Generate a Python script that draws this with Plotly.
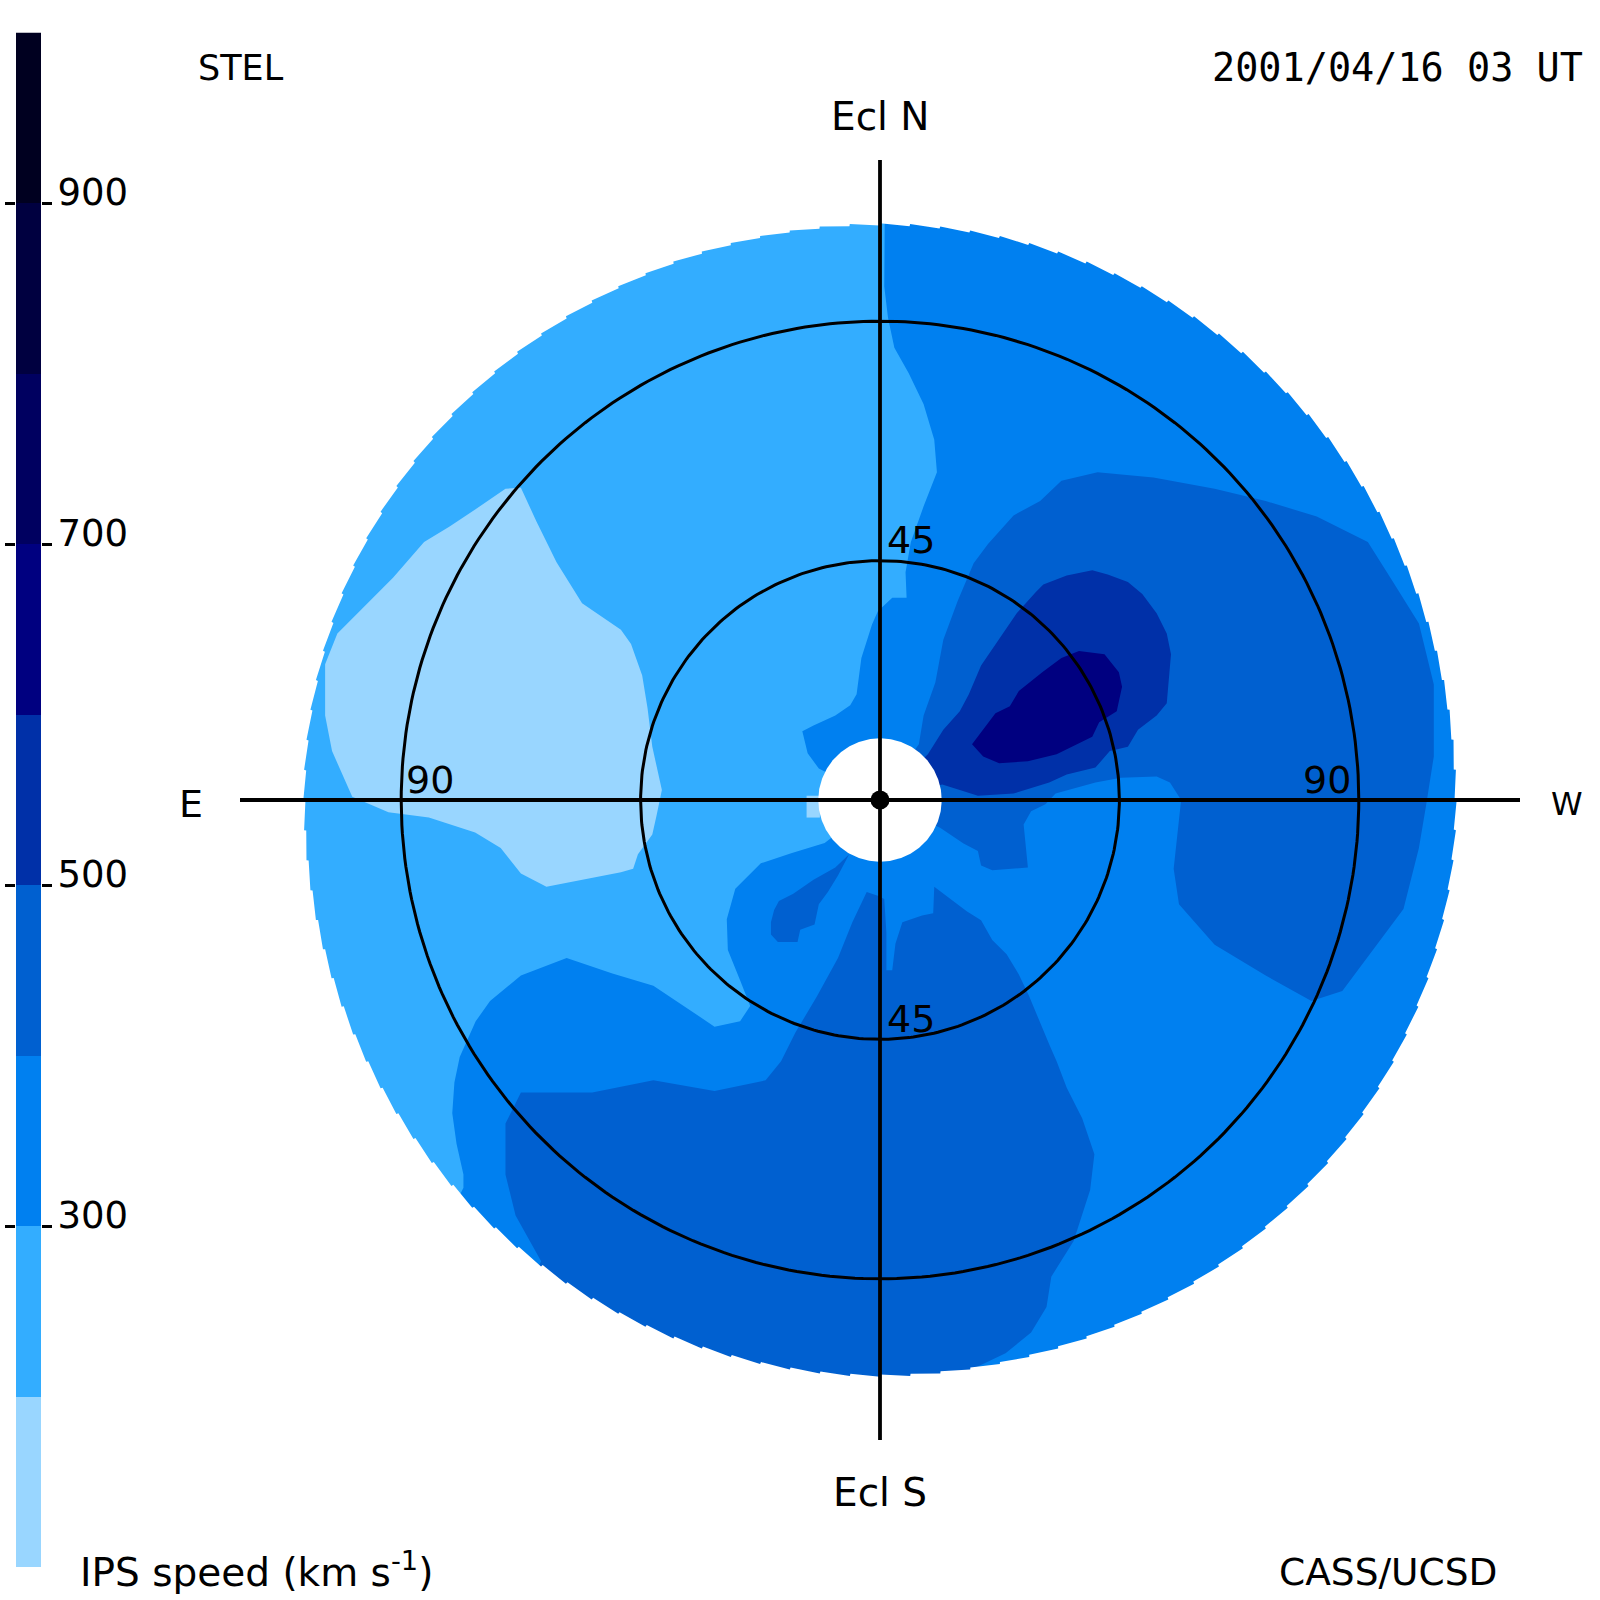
import numpy as np
import plotly.graph_objects as go

# Speed levels (km/s) and colours of the scale
level_edges = [100, 200, 300, 400, 500, 600, 700, 800, 900, 1000]
level_values = [150, 250, 350, 450, 550, 650, 750, 850, 950]
level_colors = ["#99d6ff", "#33adff", "#0080f0", "#0060d0", "#0030a8",
                "#000080", "#000060", "#000040", "#000020"]
tick_values = [300, 500, 700, 900]
ring_elongations = [45, 90]
disc_radius = 108.2
hole_radius = 11.6
axis_reach = 120.3

# Contour regions in sky-map degrees (x toward W, y toward ecliptic N)
l300_x = [1, 130, 130, -70, -80.9, -78.3, -78.3, -79.6, -80.4, -80.0, -79.0, -76.0, -73.3, -67.5, -58.9, -50.3, -42.6, -36.8, -31.1, -26.3, -24.4, -26.3, -28.6, -28.8, -27.2, -22.4, -16.7, -10.4, 0, -11.5, -13.6, -14.6, -12.5, -8.4, -5.6, -4.4, -3.5, -1.5, -0.4, 0.8, 2.3, 5.0, 4.8, 5.8, 8.2, 10.7, 10.2, 8.2, 5.4, 2.7, 1.5, 0.8]
l300_y = [125, 125, -125, -125, -78.1, -72.9, -70.4, -64.6, -58.9, -53.1, -48.3, -41.6, -37.8, -33.0, -29.7, -32.6, -34.9, -38.7, -42.6, -41.6, -38.7, -33.9, -28.2, -22.4, -16.7, -11.9, -10.0, -8.1, 0, 5.9, 8.8, 12.9, 14.0, 15.9, 17.8, 19.9, 26.7, 33.0, 35.5, 36.6, 38.0, 38.0, 42.8, 48.5, 55.2, 61.6, 67.7, 74.4, 80.2, 85.0, 90.7, 96.5]

l100_x = [-67.5, -64.6, -60.8, -56.0, -48.7, -46.8, -44.7, -43.7, -42.8, -41.8, -41.0, -42.0, -42.8, -45.5, -46.4, -48.7, -55.0, -62.7, -67.5, -71.3, -76.1, -84.8, -92.4, -99.2, -103.0, -104.3, -104.3, -102.0, -98.2, -91.5, -85.7, -80.9, -75.2, -70.4]
l100_y = [58.7, 52.4, 44.7, 37.0, 32.0, 29.3, 23.4, 17.3, 10.0, 5.2, 1.9, -2.9, -6.5, -10.2, -12.9, -13.6, -14.8, -16.3, -13.8, -9.0, -6.1, -3.3, -2.3, 0.6, 9.2, 15.9, 25.5, 31.3, 35.1, 41.8, 48.5, 51.4, 55.2, 58.5]
l100b_x = [-13.8, -11.3, -11.3, -13.8]
l100b_y = [0.8, 0.8, -3.3, -3.3]

l400a_x = [7.3, 8.2, 10.4, 11.9, 14.6, 17.6, 20.3, 25.1, 30.1, 34.1, 40.9, 51.4, 62.9, 72.5, 82.1, 91.7, 96.5, 101.3, 104.1, 104.1, 102.6, 101.3, 98.4, 92.6, 86.9, 81.1, 72.5, 62.9, 56.2, 55.2, 56.6, 54.5, 52.0, 45.3, 40.5, 33.0, 31.1, 28.4, 27.0, 27.8, 21.1, 19.0, 18.4, 15.7, 12.7, 11.3, 0]
l400a_y = [10.5, 15.9, 22.1, 30.1, 37.4, 44.5, 48.1, 53.5, 56.2, 60.0, 61.6, 60.6, 58.5, 56.2, 53.3, 48.5, 40.9, 33.2, 21.7, 8.2, -1.3, -9.0, -20.5, -28.2, -35.9, -37.8, -33.0, -27.2, -19.6, -12.9, 0, 3.3, 4.4, 4.2, 3.3, 1.2, -0.8, -2.1, -4.6, -12.7, -13.2, -12.3, -9.6, -8.2, -6.1, -5.2, 0]

l400b_x = [-0.4, -2.5, -5.2, -7.9, -11.9, -15.9, -18.6, -21.5, -31.1, -42.6, -54.1, -67.5, -70.4, -70.4, -68.5, -63.7, -70, -60, 15, 16.9, 23.6, 28.4, 31.3, 32.2, 36.4, 39.5, 40.3, 38.0, 35.1, 33.2, 32.0, 29.7, 28.0, 26.1, 23.8, 21.1, 19.0, 16.3, 11.9, 10.2, 10.0, 7.9, 4.2, 2.9, 2.3, 1.2, 1.2, 0.8]
l400b_y = [-18.0, -17.3, -23.0, -29.7, -37.0, -43.7, -49.1, -52.7, -54.7, -52.7, -55.0, -55.0, -60.8, -70.4, -78.1, -86.7, -100, -125, -125, -107.2, -104.0, -100.1, -95.3, -89.6, -82.9, -73.3, -66.6, -59.8, -54.1, -49.1, -46.4, -41.0, -36.8, -32.8, -29.0, -26.3, -22.6, -20.9, -17.6, -16.3, -21.3, -21.7, -23.0, -27.0, -32.0, -32.0, -24.9, -18.6]

l400c_x = [-20.5, -19.9, -19.0, -16.3, -12.5, -8.4, -5.8, -7.9, -9.8, -11.5, -12.3, -15.0, -15.5, -19.2, -20.5]
l400c_y = [-23.0, -20.7, -19.0, -17.6, -15.0, -12.7, -10.2, -14.2, -17.3, -19.6, -23.4, -24.4, -26.7, -26.7, -25.3]

l500_x = [9.0, 11.9, 15.0, 16.7, 19.0, 21.7, 25.7, 29.3, 30.7, 35.1, 39.9, 42.8, 46.6, 49.3, 52.0, 53.9, 54.7, 53.9, 52.0, 48.5, 46.6, 43.2, 40.5, 35.1, 31.8, 25.1, 18.4, 15.0, 11.7, 0]
l500_y = [8.6, 13.2, 16.7, 19.9, 25.3, 29.3, 35.1, 39.1, 40.5, 42.2, 43.2, 42.4, 41.0, 38.7, 35.1, 31.3, 27.4, 18.2, 15.9, 13.2, 10.0, 9.2, 6.1, 4.8, 3.3, 1.2, 0.8, 1.9, 2.9, 0]

l600_x = [17.3, 19.9, 21.7, 24.4, 26.1, 30.5, 34.1, 37.4, 42.2, 44.9, 45.5, 44.5, 41.2, 39.9, 35.9, 33.2, 27.8, 22.4, 19.4]
l600_y = [10.5, 14.0, 16.3, 17.6, 20.5, 24.0, 26.7, 28.0, 27.4, 24.0, 21.3, 16.7, 14.6, 11.9, 10.0, 8.6, 7.3, 6.9, 8.2]

PX_PER_DEG = 5.32
CX, CY, W = 880, 800, 1600
C = dict(zip(level_edges[:-1], level_colors))


def circle(r, n=361):
    t = np.radians(np.linspace(0, 360, n))
    return r * np.cos(t), r * np.sin(t)


def poly(x, y, color, name):
    return go.Scatter(x=list(x) + [x[0]], y=list(y) + [y[0]], mode="lines", fill="toself",
                      fillcolor=color, line=dict(width=0), hoverinfo="skip", name=name,
                      showlegend=False, xaxis="x", yaxis="y")


fig = go.Figure()
bx, by = circle(130)
fig.add_trace(poly(bx, by, C[200], "200-300"))
fig.add_trace(poly(l100_x, l100_y, C[100], "100-200"))
fig.add_trace(poly(l100b_x, l100b_y, C[100], "100-200"))
fig.add_trace(poly(l300_x, l300_y, C[300], "300-400"))
fig.add_trace(poly(l400a_x, l400a_y, C[400], "400-500"))
fig.add_trace(poly(l400b_x, l400b_y, C[400], "400-500"))
fig.add_trace(poly(l400c_x, l400c_y, C[400], "400-500"))
fig.add_trace(poly(l500_x, l500_y, C[500], "500-600"))
fig.add_trace(poly(l600_x, l600_y, C[600], "600-700"))

# white surround with small saw-tooth notches every 3 degrees along the disc edge
starts = np.arange(360, 0, -3.0)
theta_deg = np.column_stack([starts, starts - 2.95]).ravel()
edge_r = np.tile([disc_radius + 0.2, disc_radius - 0.2], len(starts))
theta = np.radians(theta_deg)
ex, ey = edge_r * np.cos(theta), edge_r * np.sin(theta)
big = 400
mask_x = [big, big, -big, -big, big, big] + list(ex) + [ex[0]]
mask_y = [0, big, big, -big, -big, 0] + list(ey) + [ey[0]]
fig.add_trace(poly(mask_x, mask_y, "#ffffff", "outside"))
hx, hy = circle(hole_radius)
fig.add_trace(poly(hx, hy, "#ffffff", "hole"))

for r in ring_elongations:
    rx, ry = circle(r)
    fig.add_trace(go.Scatter(x=rx, y=ry, mode="lines", line=dict(color="#000", width=3),
                             hoverinfo="skip", showlegend=False))
fig.add_trace(go.Scatter(x=[-axis_reach, axis_reach], y=[0, 0], mode="lines",
                         line=dict(color="#000", width=3.8), hoverinfo="skip", showlegend=False))
fig.add_trace(go.Scatter(x=[0, 0], y=[-axis_reach, axis_reach], mode="lines",
                         line=dict(color="#000", width=3.8), hoverinfo="skip", showlegend=False))
fig.add_trace(go.Scatter(x=[0], y=[0], mode="markers", marker=dict(color="#000", size=19),
                         hoverinfo="skip", showlegend=False))

# colour scale
n = len(level_colors)
cs = []
for i, c in enumerate(level_colors):
    cs += [[i / n, c], [(i + 1) / n, c]]
fig.add_trace(go.Heatmap(x=[0, 1], y=level_edges, z=[[v] for v in level_values],
                         colorscale=cs, zmin=level_edges[0], zmax=level_edges[-1],
                         showscale=False, hoverinfo="skip", xaxis="x2", yaxis="y2"))

FONT = "DejaVu Sans"
MONO = "DejaVu Sans Mono"
fs = 38


def label(text, px, py, anchor="center", size=fs, family=FONT):
    fig.add_annotation(text=text, x=px / W, y=1 - py / W, xref="paper", yref="paper",
                       xanchor=anchor, yanchor="middle", showarrow=False,
                       font=dict(family=family, size=size, color="#000"))


label("STEL", 196, 68, "left", size=35)
label("2001/04/16 03 UT", 1585, 68, "right", family=MONO, size=38.5)
label("Ecl N", 880, 116, size=39)
label("Ecl S", 880, 1492, size=39)
label("E", 191, 804)
label("W", 1567, 804, size=32)
label("45", 911, 540)
label("45", 911, 1019)
label("90", 430, 780)
label("90", 1327, 780)
label("IPS speed (km s<sup>-1</sup>)", 78, 1570, "left", size=39)
label("CASS/UCSD", 1499, 1572, "right", size=37.5)

fig.update_layout(
    width=W, height=W, margin=dict(l=0, r=0, t=0, b=0), autosize=False,
    paper_bgcolor="#fff", plot_bgcolor="#fff", showlegend=False,
    xaxis=dict(domain=[0, 1], range=[-CX / PX_PER_DEG, (W - CX) / PX_PER_DEG], visible=False),
    yaxis=dict(domain=[0, 1], range=[-(W - CY) / PX_PER_DEG, CY / PX_PER_DEG], visible=False),
    xaxis2=dict(domain=[16 / W, 41 / W], range=[0, 1], visible=False, anchor="y2"),
    yaxis2=dict(domain=[1 - 1567 / W, 1 - 32.5 / W], range=[100, 1000], anchor="x2", side="right",
                tickmode="array", tickvals=tick_values, ticks="outside", ticklen=10,
                tickwidth=3, tickcolor="#000", mirror="ticks", showline=False, showgrid=False,
                zeroline=False, ticklabelshift=-11, ticklabelstandoff=-2,
                tickfont=dict(family=FONT, size=37, color="#000")),
)
fig.write_html("out.html", post_script="document.body.style.margin='0';",
               config={"displayModeBar": False})
